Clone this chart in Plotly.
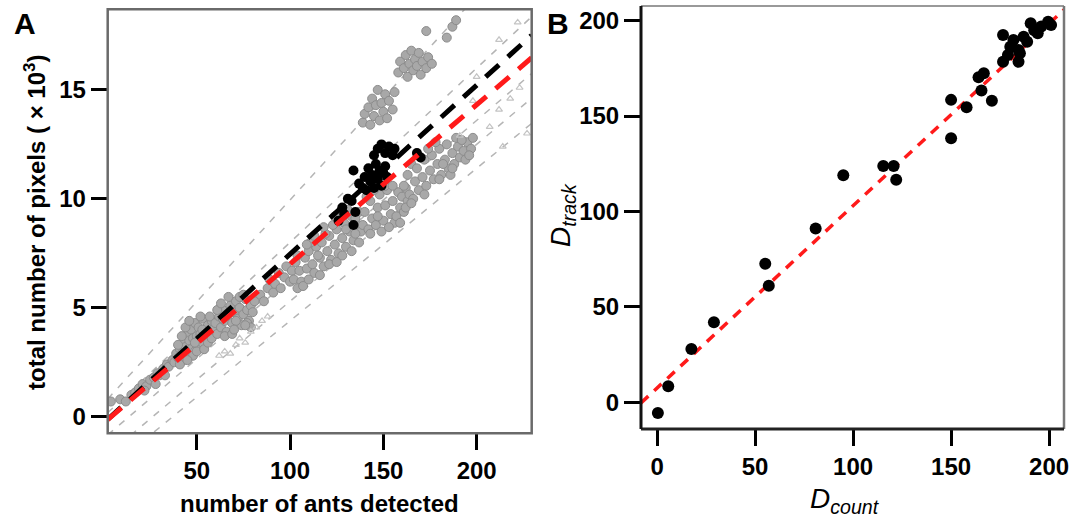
import plotly.graph_objects as go

# ---------------- Panel A data ----------------
tail_x = [4, 9, 12, 15, 17, 19, 21, 23, 25, 27, 29, 30, 32, 34, 35, 37, 22, 28, 33]
tail_y = [0.7, 0.8, 0.7, 1.0, 1.1, 1.3, 1.5, 1.4, 1.7, 1.8, 2.0, 1.9, 2.2, 2.4, 2.3, 2.6, 1.2, 1.5, 1.9]

c1_x = [38, 39, 40, 41, 42, 43, 43, 44, 45, 45, 46, 47, 47, 48, 49, 49, 50, 51, 51, 52, 53, 53, 54, 55, 56, 57, 58, 59]
c1_y = [2.5, 2.9, 2.7, 3.1, 2.9, 3.4, 2.6, 3.2, 3.8, 2.9, 3.5, 3.1, 4.0, 3.6, 3.0, 4.3, 3.7, 3.3, 4.1, 3.8, 3.4, 4.5, 3.9, 3.6, 4.2, 3.8, 4.4, 4.0]
c1b_x = [40, 42, 44, 46, 48, 50, 52, 54, 56, 58, 41, 45, 49, 53, 57]
c1b_y = [3.3, 3.7, 4.1, 4.4, 2.8, 3.0, 4.6, 3.1, 3.4, 3.6, 2.4, 2.6, 3.4, 4.0, 4.6]

c2_x = [60, 61, 62, 63, 64, 65, 66, 67, 68, 69, 70, 71, 72, 73, 74, 75, 76, 77, 78, 79, 80]
c2_y = [4.3, 3.8, 4.6, 4.1, 4.9, 4.4, 3.9, 4.7, 5.1, 4.3, 4.8, 5.3, 4.5, 5.0, 4.2, 4.7, 5.4, 4.9, 4.4, 5.1, 4.8]
c2b_x = [61, 63, 65, 67, 69, 71, 73, 75, 77, 79, 81, 64, 70, 76]
c2b_y = [4.9, 5.2, 3.7, 5.5, 3.8, 4.4, 5.5, 5.6, 4.3, 4.1, 5.3, 4.5, 4.0, 4.2]

cm_x = [84, 86, 88, 89, 91, 92, 94, 95, 97, 98, 100, 101]
cm_y = [5.6, 5.3, 5.9, 6.3, 5.7, 6.1, 6.6, 5.9, 6.4, 6.9, 6.2, 6.7]

c3_x = [102, 103, 105, 106, 108, 109, 110, 112, 113, 114, 116, 117, 118, 120, 121, 122, 124, 125, 126, 128, 129, 130, 132, 133, 134, 136, 137, 138]
c3_y = [6.3, 7.1, 6.7, 6.2, 7.3, 6.8, 7.6, 7.0, 6.6, 7.8, 7.3, 8.0, 6.9, 7.6, 8.3, 7.2, 7.9, 8.6, 7.5, 8.2, 8.9, 7.8, 8.5, 9.2, 8.1, 8.8, 9.4, 8.5]
c3b_x = [104, 107, 110, 111, 115, 116, 119, 121, 123, 125, 127, 128, 131, 133, 135, 137, 104, 109, 113, 118, 124, 130, 135]
c3b_y = [5.9, 6.0, 6.3, 8.0, 7.4, 6.5, 8.4, 7.0, 8.8, 7.1, 9.2, 7.4, 9.5, 7.6, 9.1, 8.0, 7.4, 7.9, 8.3, 8.7, 9.2, 8.6, 8.4]

c4_x = [139, 140, 142, 143, 144, 146, 147, 148, 150, 151, 152, 154, 155, 156, 158, 159, 160, 162]
c4_y = [8.8, 9.4, 8.6, 9.9, 9.1, 8.8, 9.6, 10.2, 9.0, 9.7, 10.4, 9.3, 9.9, 8.9, 10.3, 9.6, 10.1, 10.5]
c4b_x = [141, 145, 149, 153, 157, 161, 143, 147, 151, 155, 159, 163]
c4b_y = [10.1, 10.4, 8.5, 8.7, 9.2, 9.4, 8.4, 9.2, 10.6, 10.6, 8.9, 9.9]

c5_x = [161, 163, 164, 165, 167, 168, 169, 171, 172, 173, 175, 176, 177, 179, 180, 181, 183, 184, 185, 187, 188, 190, 191, 193, 195, 197]
c5_y = [10.6, 11.1, 10.2, 11.6, 10.8, 11.4, 10.4, 11.0, 11.8, 10.6, 11.3, 12.0, 10.9, 11.6, 12.3, 11.1, 11.8, 12.5, 11.4, 12.1, 11.6, 12.4, 11.9, 12.2, 12.6, 12.3]
c5b_x = [162, 166, 170, 174, 178, 182, 186, 189, 192, 194, 196, 198, 165, 172, 180, 187]
c5b_y = [9.6, 10.0, 11.9, 12.3, 12.6, 11.6, 11.1, 12.8, 12.7, 11.8, 12.0, 12.8, 9.8, 10.2, 10.9, 11.4]

u1_x = [139, 140, 142, 143, 144, 145, 146, 147, 148, 149, 150, 151, 152, 153, 155, 156]
u1_y = [13.5, 13.9, 14.2, 13.4, 14.6, 13.8, 14.3, 15.0, 13.6, 14.4, 14.0, 14.8, 13.7, 14.5, 14.1, 14.9]

u2_x = [158, 159, 161, 162, 163, 164, 165, 166, 167, 168, 169, 170, 171, 173, 174, 176, 173, 184, 187, 189]
u2_y = [15.8, 16.3, 16.0, 16.6, 15.6, 16.2, 16.8, 15.9, 16.4, 16.1, 16.7, 15.7, 16.3, 16.0, 16.5, 16.2, 17.7, 17.4, 17.9, 18.2]

lo_x = [62, 65, 68, 71, 73, 76, 79, 82, 85, 88]
lo_y = [2.8, 3.0, 2.9, 3.3, 3.6, 3.4, 3.9, 4.1, 4.4, 4.6]

lr_x = [191, 198, 200, 207, 212, 212, 214, 222, 223, 227, 218]
lr_y = [12.9, 14.5, 15.6, 13.3, 14.1, 17.3, 12.4, 18.1, 15.1, 13.0, 14.6]

black_x = [126, 128, 129, 131, 133, 134, 135, 134, 137, 139, 140, 141, 142, 143, 144, 145, 146, 147, 148, 149, 150, 151, 152, 145, 147, 149, 151, 153, 155, 156, 168, 170]
black_y = [9.0, 9.6, 9.3, 10.0, 9.9, 8.8, 9.4, 11.3, 10.7, 10.5, 11.0, 10.4, 11.4, 10.8, 11.1, 10.5, 11.6, 10.9, 11.3, 10.6, 11.2, 11.5, 11.0, 12.0, 12.3, 12.5, 12.1, 12.4, 12.0, 12.3, 12.1, 11.9]

# fitted lines (intercept, slope)
fit_black = (-0.3, 0.0776)
fit_red = (-0.3, 0.0731)
band_intercepts = [0.6, 0.0, -1.0, -1.9, -2.6]
band_slopes = [0.0935, 0.0800, 0.0730, 0.0720, 0.0700]

A_xrange = [2.3, 229.5]
A_yrange = [-0.76, 18.7]

# ---------------- Panel B data ----------------
d_count = [0.4, 5.7, 17.5, 29, 55.2, 57, 80.9, 95, 115.4, 120.7, 122, 150, 150, 157.9, 165.5, 170.8, 164, 166.7,
           176.5, 176.5, 179, 184.4, 184.4, 181.8, 187, 190.6, 192.4, 196, 199.5, 188.8, 180.2, 185.1, 194.2, 201]
d_track = [-5.6, 8.4, 27.9, 41.9, 72.6, 61.1, 91.1, 119, 123.9, 123.9, 116.6, 138.4, 158.5, 154.6, 163.4, 158.1, 170.3, 172.4,
           192.5, 178.5, 182, 178.5, 184.6, 189.9, 191.6, 198.6, 195, 196.9, 199.5, 189, 186.4, 182.9, 193.4, 197.7]
fit_B = (7.5, 0.955)
B_xrange = [-8.2, 207.6]
B_yrange = [-14, 207.7]

W, H = 1086, 521
def px_x(p):
    return p / W
def px_y(p):
    return (H - p) / H

fig = go.Figure()

gray_sets = [(tail_x, tail_y), (c1_x, c1_y), (c1b_x, c1b_y), (c2_x, c2_y), (c2b_x, c2b_y), (cm_x, cm_y),
             (c3_x, c3_y), (c3b_x, c3b_y), (c4_x, c4_y), (c4b_x, c4b_y), (c5_x, c5_y), (c5b_x, c5b_y),
             (u1_x, u1_y), (u2_x, u2_y)]

# gray band lines
for b0, b1 in zip(band_intercepts, band_slopes):
    fig.add_trace(go.Scatter(x=A_xrange, y=[b0 + b1 * A_xrange[0], b0 + b1 * A_xrange[1]],
                             mode="lines", line=dict(color="#b5b5b5", width=1.5, dash="7px,8px"),
                             xaxis="x", yaxis="y", showlegend=False, hoverinfo="skip"))

for gx, gy in gray_sets:
    fig.add_trace(go.Scatter(x=gx, y=gy, mode="markers",
                             marker=dict(size=9, color="#a8a8a8", line=dict(color="#8c8c8c", width=1)),
                             xaxis="x", yaxis="y", showlegend=False))

for lx, ly in [(lo_x, lo_y), (lr_x, lr_y)]:
    fig.add_trace(go.Scatter(x=lx, y=ly, mode="markers",
                             marker=dict(size=6, symbol="triangle-up-open", color="#c4c4c4", line=dict(width=1.2)),
                             xaxis="x", yaxis="y", showlegend=False))

fig.add_trace(go.Scatter(x=black_x, y=black_y, mode="markers",
                         marker=dict(size=10, color="black"),
                         xaxis="x", yaxis="y", showlegend=False))

for (f0, f1), col in [(fit_black, "black"), (fit_red, "#ff1a1a")]:
    fig.add_trace(go.Scatter(x=A_xrange, y=[f0 + f1 * A_xrange[0], f0 + f1 * A_xrange[1]],
                             mode="lines", line=dict(color=col, width=5, dash="18px,12px"),
                             xaxis="x", yaxis="y", showlegend=False))

# Panel B
fig.add_trace(go.Scatter(x=B_xrange, y=[fit_B[0] + fit_B[1] * B_xrange[0], fit_B[0] + fit_B[1] * B_xrange[1]],
                         mode="lines", line=dict(color="#ff1a1a", width=3.5, dash="10px,8px"),
                         xaxis="x2", yaxis="y2", showlegend=False))
fig.add_trace(go.Scatter(x=d_count, y=d_track, mode="markers",
                         marker=dict(size=12, color="black"),
                         xaxis="x2", yaxis="y2", showlegend=False))

FAM = "Liberation Sans, Arial, sans-serif"
tickfont = dict(family=FAM, size=24, color="black", weight="bold")
common = dict(showgrid=False, zeroline=False, showline=False, ticks="outside", ticklen=16,
              tickwidth=2.5, tickcolor="black", tickfont=tickfont, automargin=False, fixedrange=True)

fig.update_layout(
    template="none",
    width=W, height=H,
    margin=dict(l=0, r=0, t=0, b=0, pad=0),
    paper_bgcolor="white", plot_bgcolor="white",
    xaxis=dict(domain=[px_x(107.7), px_x(531.7)], range=A_xrange, tickvals=[50, 100, 150, 200],
               anchor="y", **common),
    yaxis=dict(domain=[px_y(433.3), px_y(9.3)], range=A_yrange, tickvals=[0, 5, 10, 15],
               anchor="x", **common),
    xaxis2=dict(domain=[px_x(641), px_x(1064)], range=B_xrange, tickvals=[0, 50, 100, 150, 200],
                anchor="y2", **common),
    yaxis2=dict(domain=[px_y(429), px_y(6)], range=B_yrange, tickvals=[0, 50, 100, 150, 200],
                anchor="x2", **common),
    showlegend=False,
)

# frames
fig.add_shape(type="rect", xref="x domain", yref="y domain", x0=0, x1=1, y0=0, y1=1,
              line=dict(color="#6a6a6a", width=2.5), layer="above")
fig.add_shape(type="line", xref="x2 domain", yref="y2 domain", x0=0, x1=1, y0=1, y1=1,
              line=dict(color="#777777", width=1.5), layer="above")
fig.add_shape(type="line", xref="x2 domain", yref="y2 domain", x0=1, x1=1, y0=0, y1=1,
              line=dict(color="#777777", width=2.5), layer="above")
fig.add_shape(type="line", xref="x2 domain", yref="y2 domain", x0=0, x1=1, y0=0, y1=0,
              line=dict(color="#222222", width=3), layer="above")
fig.add_shape(type="line", xref="x2 domain", yref="y2 domain", x0=0, x1=0, y0=0, y1=1,
              line=dict(color="#111111", width=3), layer="above")

bold24 = dict(family=FAM, size=24, color="black", weight="bold")
ital = dict(family=FAM, size=28, color="black")

def note(text, x, y, font, angle=0):
    fig.add_annotation(text=text, x=px_x(x), y=px_y(y), xref="paper", yref="paper", showarrow=False,
                       xanchor="center", yanchor="middle", textangle=angle, font=font)

note("A", 25, 23, dict(family=FAM, size=30, color="black", weight="bold"))
note("B", 558, 23, dict(family=FAM, size=30, color="black", weight="bold"))
note("total number of pixels ( × 10<sup>3</sup>)", 35, 223, bold24, -90)
note("number of ants detected", 319.7, 503, bold24)
note("<i>D<sub>track</sub></i>", 562, 215, ital, -90)
note("<i>D<sub>count</sub></i>", 845, 500, ital)

fig.write_html("out.html", config={"displayModeBar": False},
               post_script="document.body.style.margin='0';document.body.style.overflow='hidden';")
